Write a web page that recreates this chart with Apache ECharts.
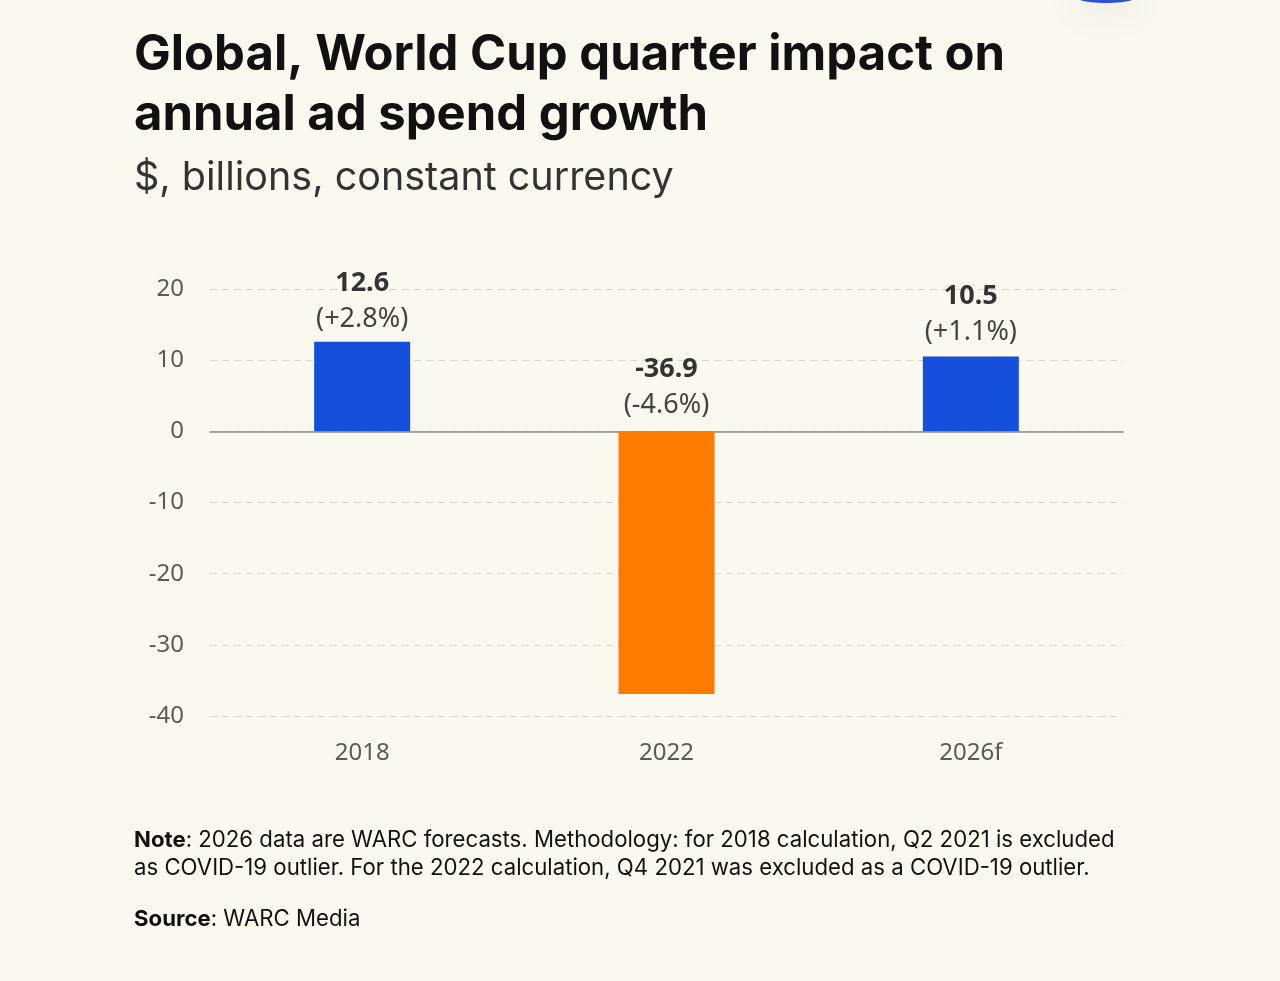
<!DOCTYPE html>
<html>
<head>
<meta charset="utf-8">
<script src="https://cdn.jsdelivr.net/npm/echarts@6/dist/echarts.min.js"></script>
<style>
  html, body { margin: 0; padding: 0; background: #faf9f0; }
  #chart { width: 1280px; height: 981px; }
</style>
</head>
<body>
<div id="chart"></div>
<script>
// data
var categories = ['2018', '2022', '2026f'];
var values = [12.6, -36.9, 10.5];
var changes = ['+2.8%', '-4.6%', '+1.1%'];

var BLUE = '#1450dc';
var ORANGE = '#ff7a00';

function drawChart() {
    var chart = echarts.init(document.getElementById('chart'));

    chart.setOption({
        backgroundColor: '#faf9f0',
        animation: false,
        grid: { left: 210, right: 157, top: 289, bottom: 265 },
        xAxis: {
            type: 'category',
            data: categories,
            axisLine: { lineStyle: { color: '#8a8a86', width: 1.5 } },
            axisTick: { show: false },
            axisLabel: {
                color: '#5a5a58', fontSize: 24, fontFamily: 'Noto Sans',
                margin: 25
            }
        },
        yAxis: {
            type: 'value',
            min: -40, max: 20, interval: 10,
            axisLine: { show: false },
            axisTick: { show: false },
            axisLabel: { color: '#5a5a58', fontSize: 24, fontFamily: 'Noto Sans', margin: 26 },
            splitLine: { lineStyle: { color: '#d6d5cf', type: [7, 5], width: 1 } }
        },
        series: [{
            type: 'bar',
            barWidth: 96,
            data: values.map(function (v, i) {
                return {
                    value: v,
                    itemStyle: { color: v < 0 ? ORANGE : BLUE },
                    label: { distance: v < 0 ? 8 : (v > 12 ? 4 : 6) }
                };
            }),
            label: {
                show: true,
                position: 'top',
                fontFamily: 'Noto Sans',
                formatter: function (p) {
                    return '{v|' + p.value + '}\n{p|(' + changes[p.dataIndex] + ')}';
                },
                rich: {
                    v: { fontSize: 27, fontWeight: 'bold', color: '#333333', lineHeight: 36, fontFamily: 'Noto Sans' },
                    p: { fontSize: 27, color: '#444444', lineHeight: 36, fontFamily: 'Noto Sans' }
                }
            }
        }],
        graphic: [
            {
                type: 'text', left: 134, top: 25,
                style: {
                    text: 'Global, World Cup quarter impact on\nannual ad spend growth',
                    font: 'bold 49px Inter', fill: '#111111', lineHeight: 60
                }
            },
            {
                type: 'text', left: 134, top: 158,
                style: {
                    text: '$, billions, constant currency',
                    font: '39.5px Inter', fill: '#333333'
                }
            },
            {
                type: 'text', left: 134, top: 826,
                style: {
                    text: '{b|Note}: 2026 data are WARC forecasts. Methodology: for 2018 calculation, Q2 2021 is excluded\nas COVID-19 outlier. For the 2022 calculation, Q4 2021 was excluded as a COVID-19 outlier.',
                    font: '22.2px Inter', fill: '#111111', lineHeight: 28,
                    rich: { b: { font: 'bold 22.2px Inter', fill: '#111111' } }
                }
            },
            {
                type: 'text', left: 134, top: 908,
                style: {
                    text: '{b|Source}: WARC Media',
                    font: '22.2px Inter', fill: '#111111',
                    rich: { b: { font: 'bold 22.2px Inter', fill: '#111111' } }
                }
            },
            {
                type: 'ellipse', shape: { cx: 1106, cy: -3, rx: 30, ry: 6 },
                style: { fill: '#3050d8', shadowBlur: 40, shadowColor: 'rgba(0,0,0,0.2)' }
            }
        ]
    });
}

drawChart();
</script>
</body>
</html>
